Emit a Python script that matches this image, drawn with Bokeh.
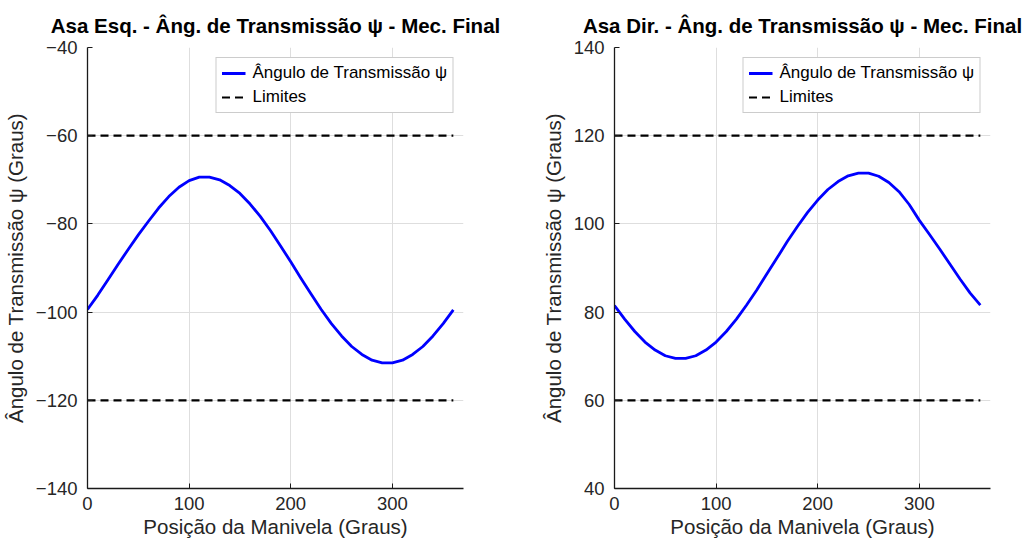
from bokeh.plotting import figure
from bokeh.layouts import row
from bokeh.models import Range1d, FixedTicker, Legend, LegendItem
from bokeh.embed import file_html
from bokeh.resources import INLINE

# ---------------- data ----------------
crank_deg = [0, 10, 20, 30, 40, 50, 60, 70, 80, 90, 100, 110, 120, 130, 140, 150, 160, 170, 180,
             190, 200, 210, 220, 230, 240, 250, 260, 270, 280, 290, 300, 310, 320, 330, 340, 350, 360]

psi_left = [-99.4, -96.2, -92.7, -89.2, -85.8, -82.5, -79.4, -76.4, -73.8, -71.7, -70.2, -69.4, -69.4,
            -70.0, -71.3, -73.1, -75.5, -78.3, -81.5, -85.0, -88.6, -92.3, -95.9, -99.4, -102.6,
            -105.4, -107.8, -109.6, -110.9, -111.5, -111.5, -110.9, -109.6, -107.8, -105.4, -102.6, -99.5]

psi_right = [81.5, 78.4, 75.6, 73.2, 71.4, 70.1, 69.5, 69.5, 70.1, 71.4, 73.2, 75.6, 78.4,
             81.6, 85.0, 88.7, 92.3, 96.0, 99.4, 102.6, 105.4, 107.8, 109.6, 110.9, 111.5,
             111.5, 110.8, 109.4, 107.3, 104.4, 100.8, 97.6, 94.3, 90.9, 87.5, 84.3, 81.6]

limits_left = [-60, -120]
limits_right = [120, 60]
limit_x = [0, 360]

x_ticks = [0, 100, 200, 300]
y_ticks_left = [-140, -120, -100, -80, -60, -40]
y_ticks_right = [40, 60, 80, 100, 120, 140]

titles = ["Asa Esq. - Âng. de Transmissão ψ - Mec. Final",
          "Asa Dir. - Âng. de Transmissão ψ - Mec. Final"]
x_label = "Posição da Manivela (Graus)"
y_label = "Ângulo de Transmissão ψ (Graus)"
legend_labels = ["Ângulo de Transmissão ψ", "Limites"]

FONT = "Liberation Sans"
TXT = "#262626"


def make_panel(title, y, limits, yticks, yr, width, border_left, border_right):
    p = figure(width=width, height=543, output_backend="svg", toolbar_location=None,
               x_range=Range1d(0, 370), y_range=Range1d(*yr),
               min_border_left=border_left, min_border_right=border_right,
               min_border_top=47, min_border_bottom=55)
    p.background_fill_color = "white"
    p.border_fill_color = "white"
    p.outline_line_color = None

    p.title.text = title
    p.title.align = "center"
    p.title.text_font = FONT
    p.title.text_font_size = "20.5px"
    p.title.text_font_style = "bold"
    p.title.text_color = "black"
    p.title.standoff = 22

    for ax in (p.xaxis[0], p.yaxis[0]):
        ax.axis_line_color = "#1a1a1a"
        ax.axis_line_width = 1.3
        ax.major_tick_line_color = "#1a1a1a"
        ax.major_tick_in = 5
        ax.major_tick_out = 0
        ax.minor_tick_line_color = None
        ax.major_label_text_font = FONT
        ax.major_label_text_font_size = "18.5px"
        ax.major_label_text_color = TXT
        ax.axis_label_text_font = FONT
        ax.axis_label_text_font_size = "20.5px"
        ax.axis_label_text_font_style = "normal"
        ax.axis_label_text_color = TXT

    p.xaxis.ticker = FixedTicker(ticks=x_ticks)
    p.yaxis.ticker = FixedTicker(ticks=yticks)
    p.xaxis.axis_label = x_label
    p.yaxis.axis_label = y_label
    p.xaxis.major_label_standoff = 8
    p.yaxis.major_label_standoff = 10
    p.xaxis.axis_label_standoff = 2
    p.yaxis.axis_label_standoff = 6

    p.xgrid.ticker = FixedTicker(ticks=x_ticks)
    p.ygrid.ticker = FixedTicker(ticks=yticks)
    for g in (p.xgrid[0], p.ygrid[0]):
        g.grid_line_color = "#dedede"
        g.grid_line_width = 1

    r_curve = p.line(crank_deg, y, line_color="#0000ff", line_width=2.8, line_join="round")
    r_lim = p.multi_line(xs=[limit_x, limit_x], ys=[[limits[0]] * 2, [limits[1]] * 2],
                         line_color="black", line_width=2.2, line_dash="8 5")

    legend = Legend(items=[LegendItem(label=legend_labels[0], renderers=[r_curve]),
                           LegendItem(label=legend_labels[1], renderers=[r_lim])],
                    location="top_right")
    legend.margin = 10
    legend.padding = 5
    legend.spacing = 4
    legend.glyph_width = 24
    legend.glyph_height = 20
    legend.label_height = 20
    legend.label_standoff = 7
    legend.label_text_font = FONT
    legend.label_text_font_size = "17px"
    legend.label_text_color = "black"
    legend.border_line_color = "#9a9a9a"
    legend.border_line_width = 1
    legend.background_fill_color = "white"
    legend.background_fill_alpha = 1.0
    p.add_layout(legend)
    return p


p1 = make_panel(titles[0], psi_left, limits_left, y_ticks_left, (-140, -40), 515, 87, 52)
p2 = make_panel(titles[1], psi_right, limits_right, y_ticks_right, (40, 140), 515, 99, 40)

layout = row(p1, p2)
open("out.html", "w").write(file_html(layout, INLINE))
